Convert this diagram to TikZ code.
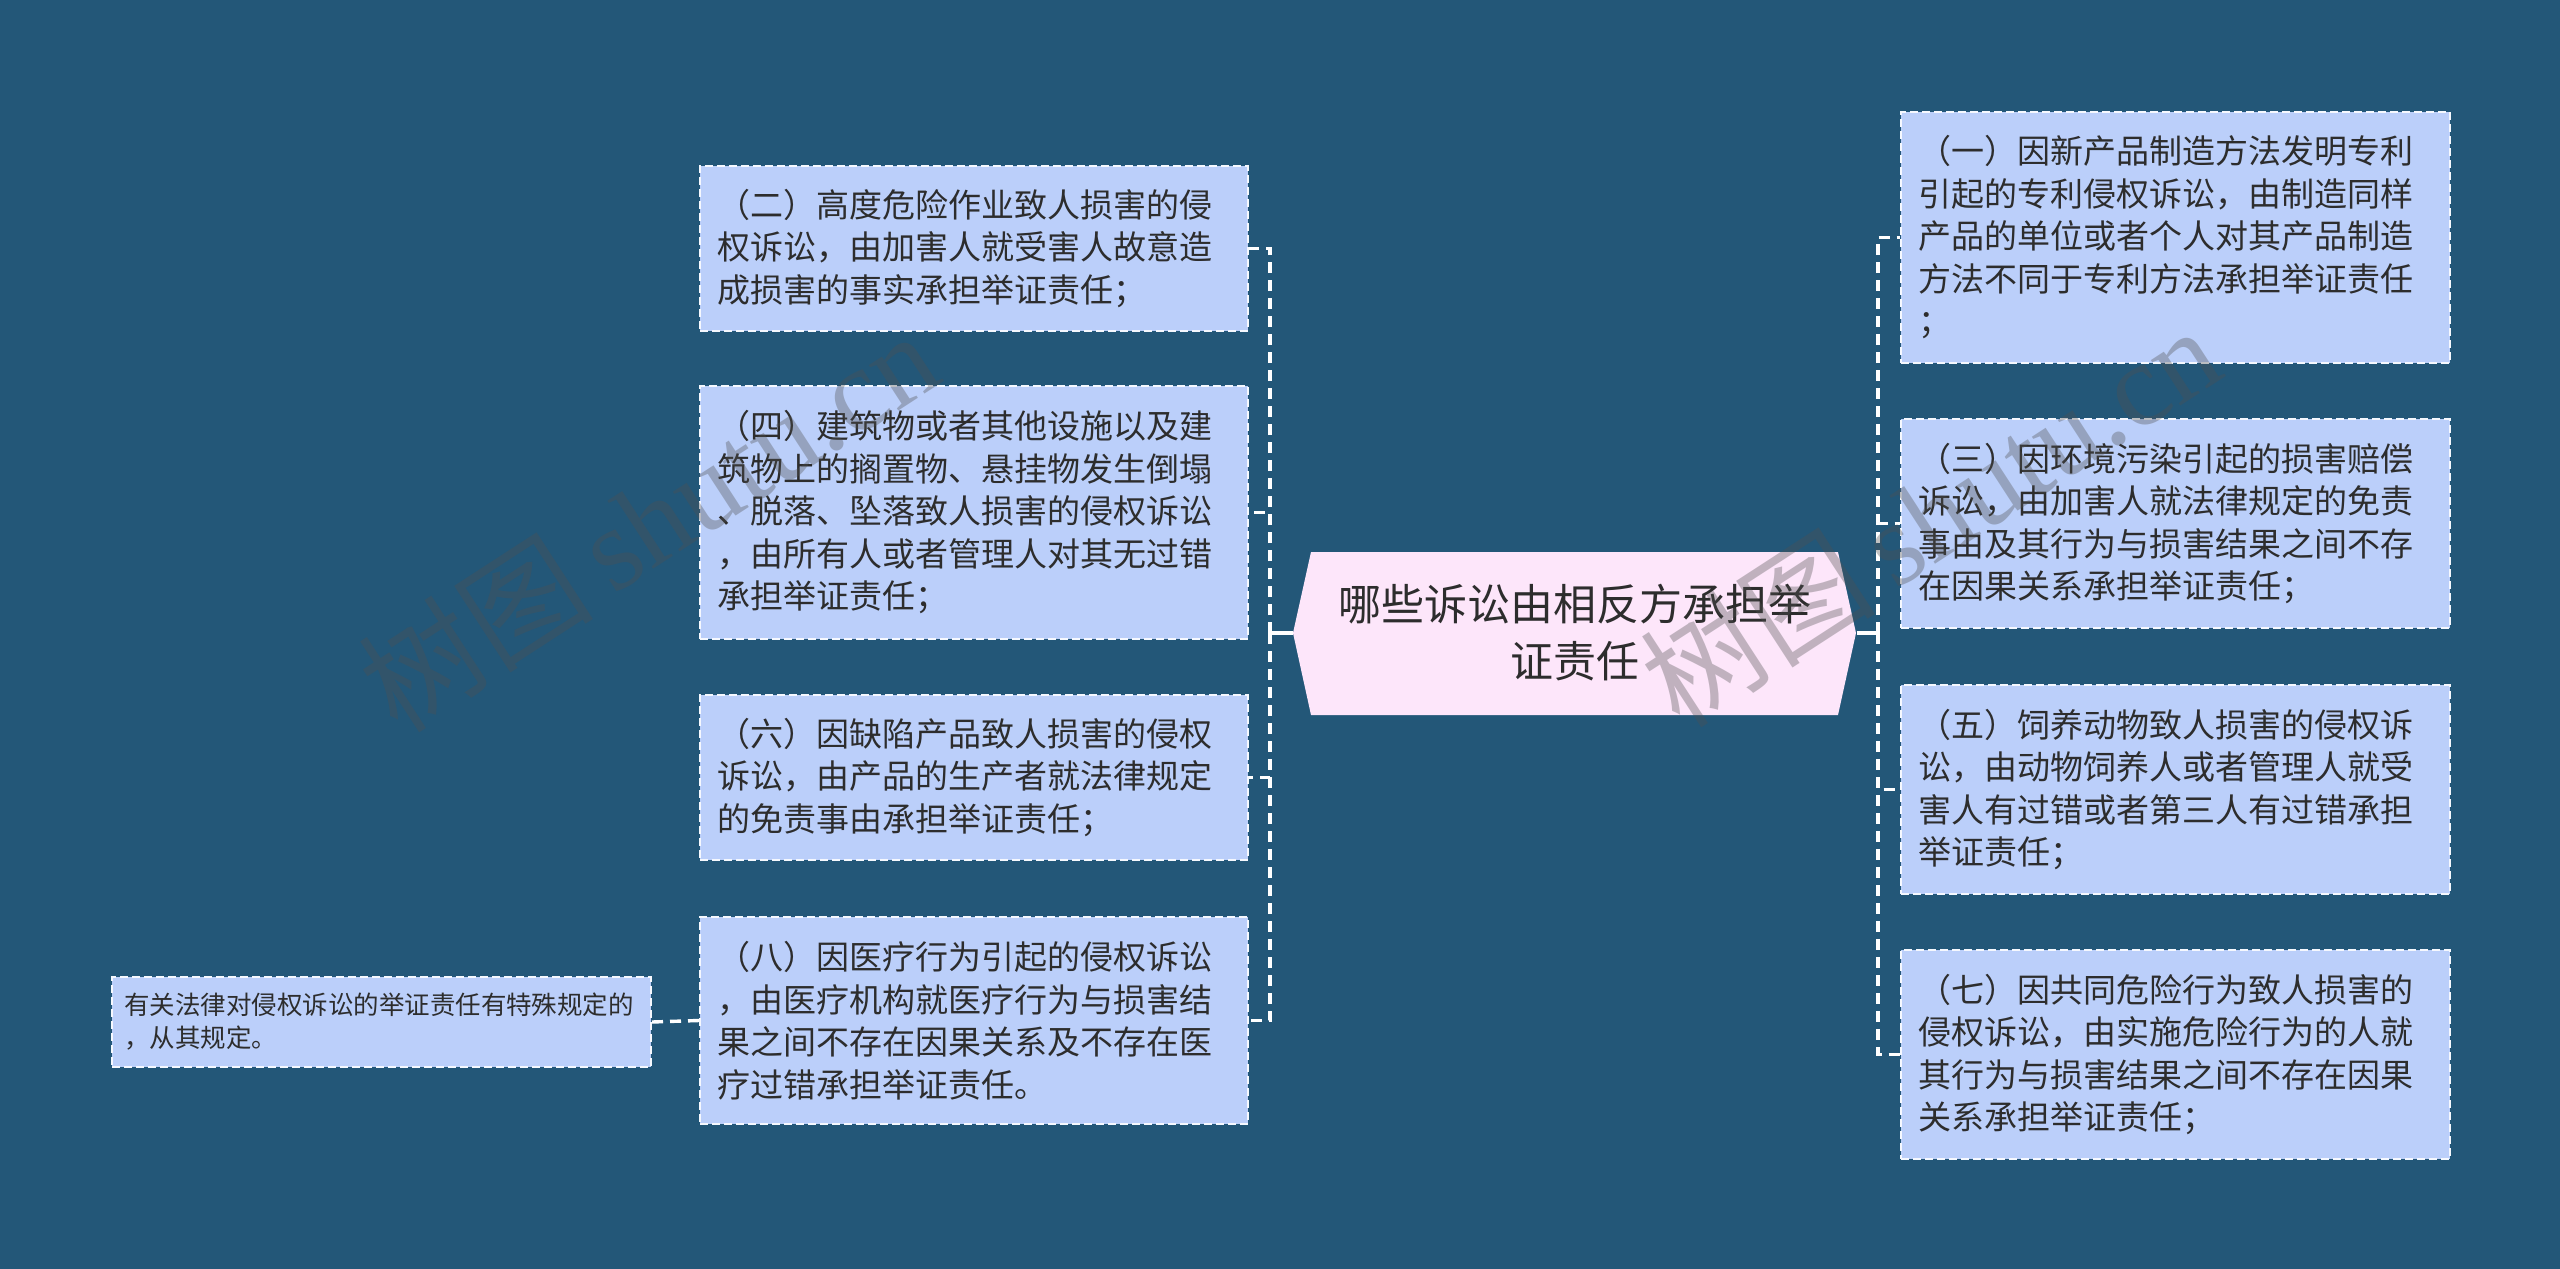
\documentclass[tikz,border=0pt]{standalone}
\usepackage{fontspec}
\setmainfont{Noto Sans CJK SC}
\newfontfamily\wmlatin{Liberation Serif}
\definecolor{bgc}{RGB}{35,87,120}
\definecolor{boxc}{RGB}{187,207,250}
\definecolor{cenc}{RGB}{253,230,250}
\definecolor{txtc}{RGB}{45,45,45}
\definecolor{wmc}{RGB}{80,80,80}
\tikzset{
  leaf/.style={draw=white!85!boxc, dash pattern=on 8pt off 4pt, line width=2pt,
    fill=boxc, text=txtc, align=left, inner xsep=17pt, inner ysep=0pt, anchor=north west,
    font=\fontsize{33}{42.5}\selectfont},
  small/.style={leaf, inner xsep=12pt, font=\fontsize{25.5}{33}\selectfont},
  conn/.style={draw=white, line width=3.4pt, dash pattern=on 11pt off 7pt},
  wm/.style={text=wmc, opacity=0.35, rotate=33, inner sep=0pt}
}
\begin{document}
\begin{tikzpicture}[x=1pt,y=-1pt]
\fill[bgc] (0,0) rectangle (2560,1269);
\useasboundingbox (0,0) rectangle (2560,1269);

% centre node
\fill[cenc] (1293,633) -- (1311,552) -- (1838,552) -- (1856,633) -- (1838,715) -- (1311,715) -- cycle;
\node[text=txtc, align=center, font=\fontsize{43}{57}\selectfont, minimum width=563pt, minimum height=163pt, inner sep=0pt] (c) at (1575,633)
  {哪些诉讼由相反方承担举\\证责任};

% left leaves
\node[leaf, minimum width=548pt, minimum height=165pt, text width=514pt] (L1) at (699,165)
  {（二）高度危险作业致人损害的侵\\权诉讼，由加害人就受害人故意造\\成损害的事实承担举证责任；};
\node[leaf, minimum width=548pt, minimum height=253pt, text width=514pt] (L2) at (699,385)
  {（四）建筑物或者其他设施以及建\\筑物上的搁置物、悬挂物发生倒塌\\、脱落、坠落致人损害的侵权诉讼\\，由所有人或者管理人对其无过错\\承担举证责任；};
\node[leaf, minimum width=548pt, minimum height=165pt, text width=514pt] (L3) at (699,694)
  {（六）因缺陷产品致人损害的侵权\\诉讼，由产品的生产者就法律规定\\的免责事由承担举证责任；};
\node[leaf, minimum width=548pt, minimum height=207pt, text width=514pt] (L4) at (699,916)
  {（八）因医疗行为引起的侵权诉讼\\，由医疗机构就医疗行为与损害结\\果之间不存在因果关系及不存在医\\疗过错承担举证责任。};
\node[small, minimum width=539pt, minimum height=90pt, text width=515pt] (X) at (111,976)
  {有关法律对侵权诉讼的举证责任有特殊规定的\\，从其规定。};

% right leaves
\node[leaf, minimum width=549pt, minimum height=251pt, text width=515pt] (R1) at (1900,111)
  {（一）因新产品制造方法发明专利\\引起的专利侵权诉讼，由制造同样\\产品的单位或者个人对其产品制造\\方法不同于专利方法承担举证责任\\；};
\node[leaf, minimum width=549pt, minimum height=209pt, text width=515pt] (R2) at (1900,418)
  {（三）因环境污染引起的损害赔偿\\诉讼，由加害人就法律规定的免责\\事由及其行为与损害结果之间不存\\在因果关系承担举证责任；};
\node[leaf, minimum width=549pt, minimum height=209pt, text width=515pt] (R3) at (1900,684)
  {（五）饲养动物致人损害的侵权诉\\讼，由动物饲养人或者管理人就受\\害人有过错或者第三人有过错承担\\举证责任；};
\node[leaf, minimum width=549pt, minimum height=209pt, text width=515pt] (R4) at (1900,949)
  {（七）因共同危险行为致人损害的\\侵权诉讼，由实施危险行为的人就\\其行为与损害结果之间不存在因果\\关系承担举证责任；};

% connectors
\coordinate (lb) at (1270,633);
\coordinate (rb) at (1878,633);
\draw[white, line width=3.4pt] (c.west) -- (lb);
\draw[white, line width=3.4pt] (c.east) -- (rb);
\foreach \n in {L1,L2,L3,L4} \draw[conn] (lb) |- (\n.east);
\foreach \n in {R1,R2,R3,R4} \draw[conn] (rb) |- (\n.west);
\draw[conn] (L4.west) -- (X.east);

% watermarks
\node[wm] (w1) at (648,520) {\fontsize{118}{118}\selectfont 树图\,{\wmlatin shutu.cn}};
\node[wm] (w2) at (1930,515) {\fontsize{118}{118}\selectfont 树图\,{\wmlatin shutu.cn}};
\end{tikzpicture}
\end{document}
